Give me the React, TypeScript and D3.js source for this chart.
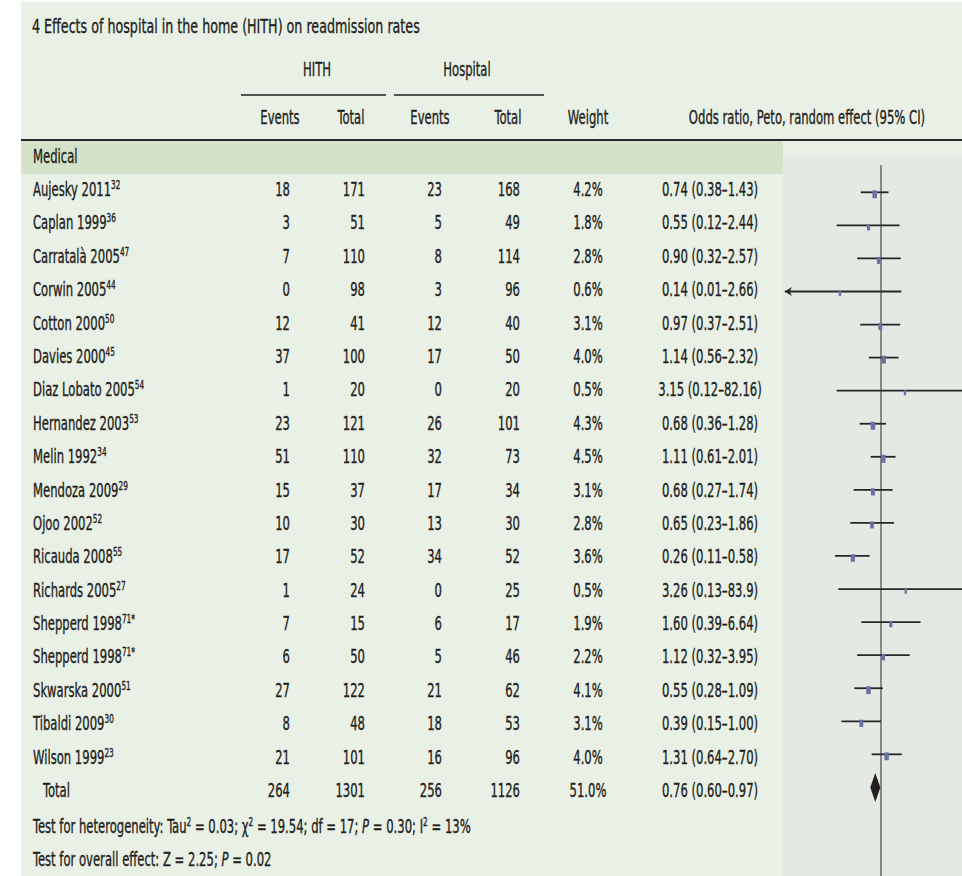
import React from "react";
import * as d3 from "d3";

const W = 962;
const H = 876;

const studyNames = [
  "Aujesky 2011", "Caplan 1999", "Carratalà 2005", "Corwin 2005", "Cotton 2000",
  "Davies 2000", "Diaz Lobato 2005", "Hernandez 2003", "Melin 1992", "Mendoza 2009",
  "Ojoo 2002", "Ricauda 2008", "Richards 2005", "Shepperd 1998", "Shepperd 1998",
  "Skwarska 2000", "Tibaldi 2009", "Wilson 1999",
];
const refs = ["32", "36", "47", "44", "50", "45", "54", "53", "34", "29", "52", "55", "27", "71*", "71*", "51", "30", "23"];
const hithEvents = [18, 3, 7, 0, 12, 37, 1, 23, 51, 15, 10, 17, 1, 7, 6, 27, 8, 21];
const hithTotal = [171, 51, 110, 98, 41, 100, 20, 121, 110, 37, 30, 52, 24, 15, 50, 122, 48, 101];
const hospEvents = [23, 5, 8, 3, 12, 17, 0, 26, 32, 17, 13, 34, 0, 6, 5, 21, 18, 16];
const hospTotal = [168, 49, 114, 96, 40, 50, 20, 101, 73, 34, 30, 52, 25, 17, 46, 62, 53, 96];
const weights = [4.2, 1.8, 2.8, 0.6, 3.1, 4.0, 0.5, 4.3, 4.5, 3.1, 2.8, 3.6, 0.5, 1.9, 2.2, 4.1, 3.1, 4.0];
const oddsRatio = [0.74, 0.55, 0.9, 0.14, 0.97, 1.14, 3.15, 0.68, 1.11, 0.68, 0.65, 0.26, 3.26, 1.6, 1.12, 0.55, 0.39, 1.31];
const ciLow = [0.38, 0.12, 0.32, 0.01, 0.37, 0.56, 0.12, 0.36, 0.61, 0.27, 0.23, 0.11, 0.13, 0.39, 0.32, 0.28, 0.15, 0.64];
const ciHigh = [1.43, 2.44, 2.57, 2.66, 2.51, 2.32, 82.16, 1.28, 2.01, 1.74, 1.86, 0.58, 83.9, 6.64, 3.95, 1.09, 1.0, 2.7];
const ciText = [
  "0.74 (0.38–1.43)", "0.55 (0.12–2.44)", "0.90 (0.32–2.57)", "0.14 (0.01–2.66)", "0.97 (0.37–2.51)",
  "1.14 (0.56–2.32)", "3.15 (0.12–82.16)", "0.68 (0.36–1.28)", "1.11 (0.61–2.01)", "0.68 (0.27–1.74)",
  "0.65 (0.23–1.86)", "0.26 (0.11–0.58)", "3.26 (0.13–83.9)", "1.60 (0.39–6.64)", "1.12 (0.32–3.95)",
  "0.55 (0.28–1.09)", "0.39 (0.15–1.00)", "1.31 (0.64–2.70)",
];
const total = { hithEvents: 264, hithTotal: 1301, hospEvents: 256, hospTotal: 1126, weight: "51.0%", text: "0.76 (0.60–0.97)" };
const pooled = [0.76, 0.6, 0.97];
const axisDomain = [0.01, 100];

const FONT = "'DejaVu Sans Condensed', 'DejaVu Sans', sans-serif";
const INK = "#231f20";
const SX = 0.68;
const FS = 19;

const T = ({ x, y, anchor = "start", size = FS, sx = SX, children }: any) => (
  <text
    transform={`translate(${x},${y}) scale(${sx},1)`}
    textAnchor={anchor}
    fontSize={size}
    fill={INK}
    stroke={INK}
    strokeWidth={0.35}
  >
    {children}
  </text>
);

const Sup = ({ children }: any) => (
  <tspan fontSize={12} dy={-7}>{children}</tspan>
);

export default function App() {
  const rowIds = [...studyNames.map((_, i) => i), studyNames.length];
  const textY = d3.scalePoint<number>().domain(rowIds).range([196, 797]);
  const plotY = d3.scalePoint<number>().domain(rowIds).range([192.3, 787.4]);
  const x = d3.scaleLog().domain(axisDomain).range([784.8, 977.2]);

  const col = { name: 33, hE: 290, hT: 365, pE: 442, pT: 520, weight: 588, or: 710 };
  const last = studyNames.length;

  return (
    <div style={{ position: "absolute", left: 0, top: 0 }}>
      <svg width={W} height={H} style={{ display: "block", fontFamily: FONT }}>
        <rect width={W} height={H} fill="#ffffff" />
        <rect x={21} y={2} width={W - 21} height={H - 2} fill="#e9f0e6" />
        <rect x={21} y={141} width={783 - 21} height={33} fill="#d4e2c9" />
        <rect x={783} y={157} width={W - 783} height={H - 157} fill="#e5e9e3" />

        <T x={32} y={33} size={20} sx={0.705}>4  Effects of hospital in the home (HITH) on readmission rates</T>

        <T x={317} y={76} anchor="middle">HITH</T>
        <T x={467} y={76} anchor="middle">Hospital</T>
        <line x1={241} x2={386} y1={95} y2={95} stroke={INK} strokeWidth={1.5} />
        <line x1={394} x2={544} y1={95} y2={95} stroke={INK} strokeWidth={1.5} />

        <T x={280} y={124} anchor="middle">Events</T>
        <T x={351} y={124} anchor="middle">Total</T>
        <T x={430} y={124} anchor="middle">Events</T>
        <T x={508} y={124} anchor="middle">Total</T>
        <T x={588} y={124} anchor="middle">Weight</T>
        <T x={807} y={124} anchor="middle">Odds ratio, Peto, random effect (95% CI)</T>

        <line x1={21} x2={W} y1={140} y2={140} stroke="#2a2a2a" strokeWidth={2} />
        <T x={33} y={163}>Medical</T>

        {studyNames.map((name, i) => (
          <g key={i}>
            <T x={col.name} y={textY(i)}>
              {name}
              <Sup>{refs[i]}</Sup>
            </T>
            <T x={col.hE} y={textY(i)} anchor="end">{hithEvents[i]}</T>
            <T x={col.hT} y={textY(i)} anchor="end">{hithTotal[i]}</T>
            <T x={col.pE} y={textY(i)} anchor="end">{hospEvents[i]}</T>
            <T x={col.pT} y={textY(i)} anchor="end">{hospTotal[i]}</T>
            <T x={col.weight} y={textY(i)} anchor="middle">{weights[i].toFixed(1)}%</T>
            <T x={col.or} y={textY(i)} anchor="middle">{ciText[i]}</T>
          </g>
        ))}

        <T x={43} y={textY(last)}>Total</T>
        <T x={col.hE} y={textY(last)} anchor="end">{total.hithEvents}</T>
        <T x={col.hT} y={textY(last)} anchor="end">{total.hithTotal}</T>
        <T x={col.pE} y={textY(last)} anchor="end">{total.hospEvents}</T>
        <T x={col.pT} y={textY(last)} anchor="end">{total.hospTotal}</T>
        <T x={col.weight} y={textY(last)} anchor="middle">{total.weight}</T>
        <T x={col.or} y={textY(last)} anchor="middle">{total.text}</T>

        <T x={33} y={833}>
          Test for heterogeneity: Tau<Sup>2</Sup>
          <tspan dy={7}> = 0.03; χ</tspan><Sup>2</Sup>
          <tspan dy={7}> = 19.54; df = 17; </tspan>
          <tspan fontStyle="italic">P</tspan> = 0.30; I<Sup>2</Sup>
          <tspan dy={7}> = 13%</tspan>
        </T>
        <T x={33} y={866}>
          Test for overall effect: Z = 2.25; <tspan fontStyle="italic">P</tspan> = 0.02
        </T>

        {/* forest plot */}
        <line x1={x(1)} x2={x(1)} y1={165} y2={H} stroke="#4a4a4a" strokeWidth={1.2} />
        {studyNames.map((_, i) => {
          const y = plotY(i)!;
          const lo = Math.max(ciLow[i], axisDomain[0]);
          const x0 = x(lo);
          const w = 2 + weights[i] * 0.6;
          const h = 5 + weights[i] * 0.7;
          return (
            <g key={i}>
              <line x1={x0} x2={x(ciHigh[i])} y1={y} y2={y} stroke="#262626" strokeWidth={1.8} />
              {ciLow[i] <= axisDomain[0] && (
                <path d={`M${x0},${y} L${x0 + 7},${y - 4.5} L${x0 + 5},${y} L${x0 + 7},${y + 4.5} Z`} fill="#262626" />
              )}
              <rect x={x(oddsRatio[i]) - w / 2} y={y - h / 2 + 2} width={w} height={h} fill="#6a70a2" />
            </g>
          );
        })}
        {(() => {
          const y = plotY(last)!;
          const [m, lo, hi] = pooled.map((v) => x(v));
          return <polygon points={`${lo},${y} ${m},${y - 14.5} ${hi},${y} ${m},${y + 14.5}`} fill={INK} />;
        })()}
      </svg>
    </div>
  );
}
